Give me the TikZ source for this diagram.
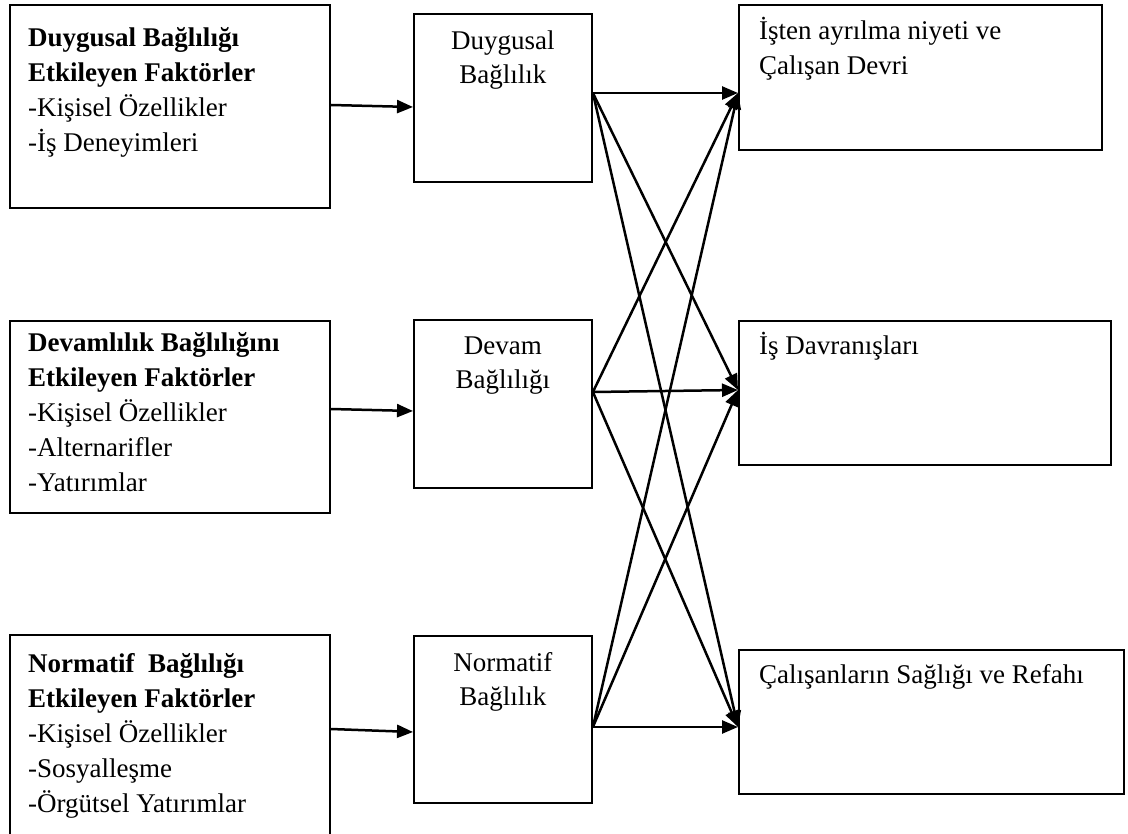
\documentclass[tikz,border=0pt]{standalone}
\usepackage{fontspec}
\setmainfont{Liberation Serif}
\usetikzlibrary{arrows.meta,calc}

% stacked lines of text whose baseline is that of the first line
\newcommand{\leftlines}[1]{\begin{tabular}[t]{@{}l@{}}#1\end{tabular}}
\newcommand{\midlines}[1]{\begin{tabular}[t]{@{}c@{}}#1\end{tabular}}

\tikzset{
  box/.style={draw, line width=1.9pt, inner sep=0pt, anchor=north west},
  txt/.style={anchor=base west, inner sep=0pt, font=\fontsize{27}{35}\selectfont},
  ctxt/.style={anchor=base, inner sep=0pt, font=\fontsize{27}{34}\selectfont},
  link/.style={line width=2.5pt, -{Triangle[length=16pt,width=13pt]}},
}

\begin{document}
\begin{tikzpicture}[x=1pt,y=-1pt]
\useasboundingbox (0,0) rectangle (1128,834);

% factor boxes
\node[box, minimum width=320, minimum height=203] (L1) at (9,4) {};
\node[box, minimum width=320, minimum height=192] (L2) at (9,320) {};
\node[box, minimum width=320, minimum height=215] (L3) at (9,634) {};

% commitment boxes
\node[box, minimum width=178, minimum height=168] (M1) at (413,13) {};
\node[box, minimum width=178, minimum height=168] (M2) at (413,319) {};
\node[box, minimum width=178, minimum height=167] (M3) at (413,635) {};

% outcome boxes
\node[box, minimum width=363, minimum height=145] (R1) at (738,4) {};
\node[box, minimum width=372, minimum height=144] (R2) at (738,320) {};
\node[box, minimum width=385, minimum height=144] (R3) at (738,649) {};

% texts
\node[txt] (L1t) at ($(L1.north west)+(19,43)$) {\leftlines{\textbf{Duygusal Bağlılığı}\\ \textbf{Etkileyen Faktörler}\\ -Kişisel Özellikler\\ -İş Deneyimleri}};
\node[txt] (L2t) at ($(L2.north west)+(19,32)$) {\leftlines{\textbf{Devamlılık Bağlılığını}\\ \textbf{Etkileyen Faktörler}\\ -Kişisel Özellikler\\ -Alternarifler\\ -Yatırımlar}};
\node[txt] (L3t) at ($(L3.north west)+(19,38)$) {\leftlines{\textbf{Normatif\ \ Bağlılığı}\\ \textbf{Etkileyen Faktörler}\\ -Kişisel Özellikler\\ -Sosyalleşme\\ -Örgütsel Yatırımlar}};

\node[ctxt] (M1t) at ($(M1.north)+(0,37)$) {\midlines{Duygusal\\ Bağlılık}};
\node[ctxt] (M2t) at ($(M2.north)+(0,36)$) {\midlines{Devam\\ Bağlılığı}};
\node[ctxt] (M3t) at ($(M3.north)+(0,36)$) {\midlines{Normatif\\ Bağlılık}};

\node[txt] (R1t) at ($(R1.north west)+(21,36)$) {\leftlines{İşten ayrılma niyeti ve\\ Çalışan Devri}};
\node[txt] (R2t) at ($(R2.north west)+(21,35)$) {İş Davranışları};
\node[txt] (R3t) at ($(R3.north west)+(21,34)$) {Çalışanların Sağlığı ve Refahı};

% factor -> commitment
\draw[link] ($(L1.north east)+(0,101)$) -- ($(M1.north west)+(0,94)$);
\draw[link] ($(L2.north east)+(0,89)$) -- ($(M2.north west)+(0,92)$);
\draw[link] ($(L3.north east)+(0,95)$) -- ($(M3.north west)+(0,97)$);

% commitment -> every outcome
\coordinate (o1) at ($(M1.north east)+(0,80)$);
\coordinate (o2) at ($(M2.north east)+(0,73)$);
\coordinate (o3) at ($(M3.north east)+(0,92)$);
\coordinate (i1) at ($(R1.north west)+(0,89)$);
\coordinate (i2) at ($(R2.north west)+(0,70)$);
\coordinate (i3) at ($(R3.north west)+(0,78)$);
\foreach \a in {1,2,3}{
  \foreach \b in {1,2,3}{
    \draw[link] (o\a) -- (i\b);
  }
}
\end{tikzpicture}
\end{document}
